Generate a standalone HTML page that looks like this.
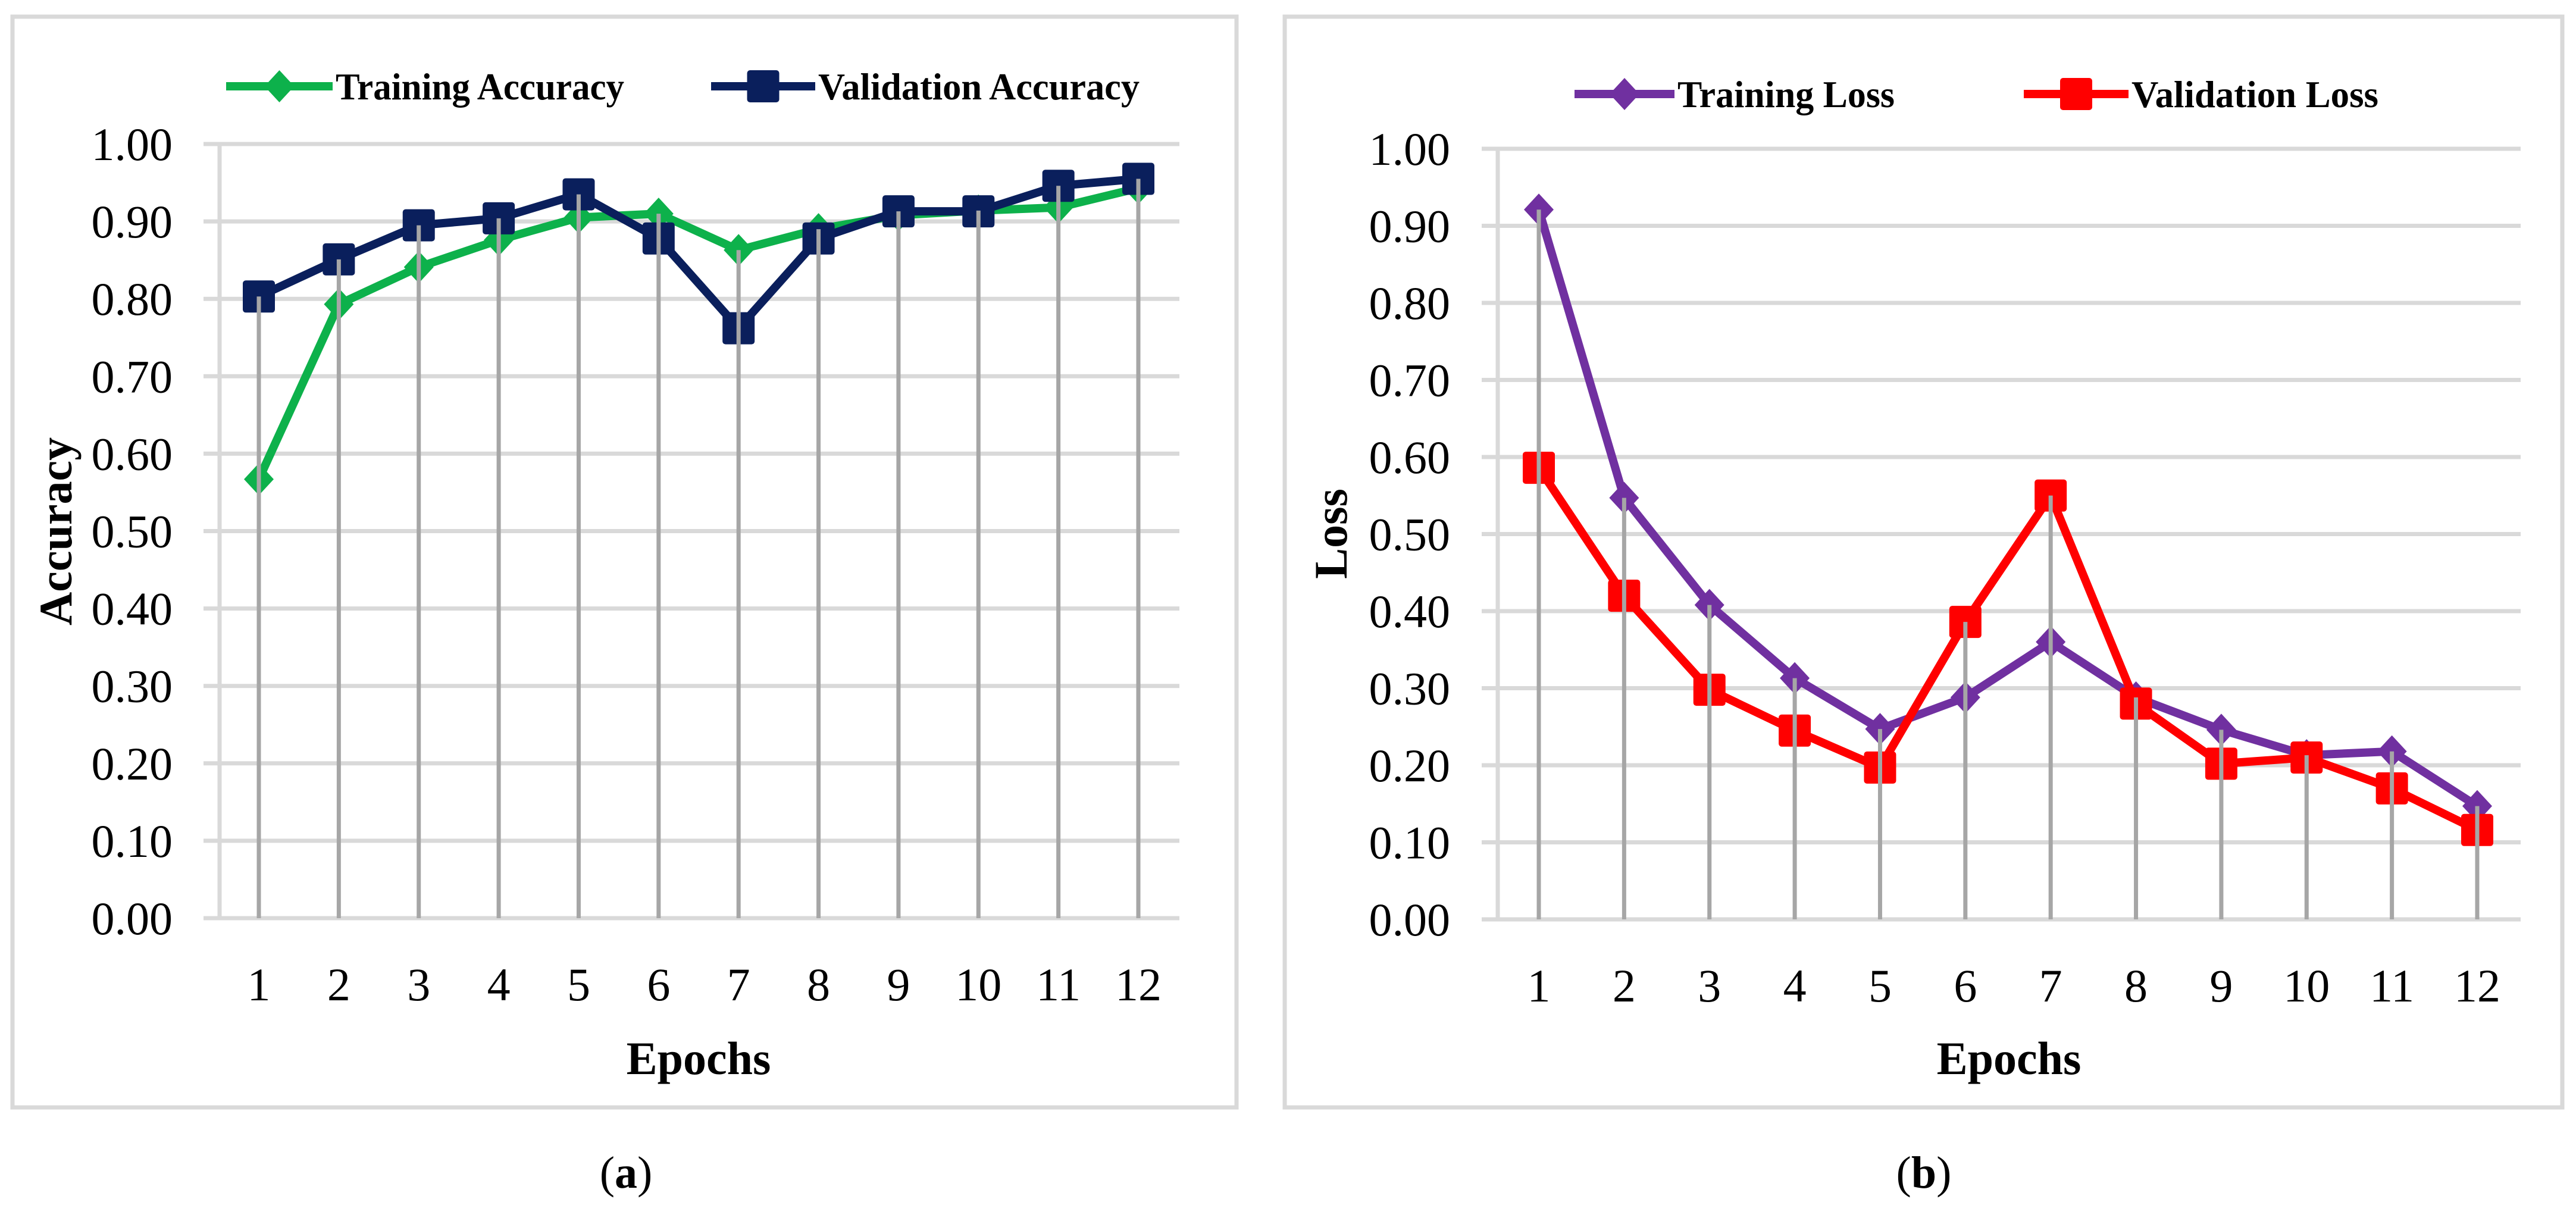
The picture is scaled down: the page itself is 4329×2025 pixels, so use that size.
<!DOCTYPE html>
<html><head><meta charset="utf-8">
<style>
html,body{margin:0;padding:0;background:#fff;}
svg{display:block;}
text{font-family:"Liberation Serif",serif;fill:#000;}
</style></head>
<body>
<svg id="fig" width="4329" height="2025" viewBox="0 0 4329 2025" xmlns="http://www.w3.org/2000/svg"></svg>
<script>
const epochs = [1,2,3,4,5,6,7,8,9,10,11,12];
const yTicks = [0,0.1,0.2,0.3,0.4,0.5,0.6,0.7,0.8,0.9,1.0];
const trainAcc = [0.567,0.793,0.841,0.876,0.905,0.910,0.863,0.890,0.908,0.914,0.918,0.943];
const valAcc = [0.803,0.851,0.895,0.904,0.935,0.878,0.762,0.878,0.913,0.913,0.946,0.955];
const trainLoss = [0.921,0.547,0.408,0.313,0.247,0.288,0.360,0.288,0.246,0.213,0.218,0.147];
const valLoss = [0.586,0.420,0.298,0.245,0.197,0.386,0.550,0.280,0.202,0.210,0.170,0.116];

const NS = "http://www.w3.org/2000/svg";
const svg = document.getElementById('fig');
function mk(tag, attrs, parent){
  const e = document.createElementNS(NS, tag);
  for (const k in attrs) e.setAttribute(k, attrs[k]);
  (parent||svg).appendChild(e);
  return e;
}
function marker(g, type, cx, cy, color){
  let m;
  if (type === 'sq') {
    m = mk('rect', {x:cx-27, y:cy-27, width:54, height:54, rx:5, fill:color}, g);
  } else {
    m = mk('polygon', {points:`${cx},${cy-27} ${cx+25},${cy} ${cx},${cy+27} ${cx-25},${cy}`, fill:color}, g);
  }
  return m;
}

function panel(cfg){
  const g = mk('g', {});
  
  
  const box = mk('rect', {x:cfg.box[0], y:cfg.box[1], width:cfg.box[2]-cfg.box[0], height:cfg.box[3]-cfg.box[1], fill:'none', stroke:'#d9d9d9', 'stroke-width':7}, g);
  
  
  const xs = i => cfg.x1 + (cfg.x12 - cfg.x1) * i / (epochs.length - 1);
  const ys = v => cfg.y0 + (cfg.y1 - cfg.y0) * v;
  yTicks.forEach(t => {
    const l = mk('line', {x1:cfg.gx0, x2:cfg.gx1, y1:ys(t), y2:ys(t), stroke:'#d9d9d9', 'stroke-width':7}, g);
    
    
    const tx = mk('text', {x:cfg.labR, y:ys(t)+27, 'text-anchor':'end', 'font-size':78}, g);
    tx.textContent = t.toFixed(2);
    
    
  });
  const ax = mk('line', {x1:cfg.axX, x2:cfg.axX, y1:cfg.y1, y2:cfg.y0, stroke:'#d9d9d9', 'stroke-width':7}, g);
  
  
  epochs.forEach((e,i) => {
    const tx = mk('text', {x:xs(i), y:cfg.tickY+27, 'text-anchor':'middle', 'font-size':78}, g);
    tx.textContent = e;
    
    
  });
  cfg.series.forEach(s => {
    const pts = s.data.map((v,i) => xs(i)+','+ys(v)).join(' ');
    const pl = mk('polyline', {points:pts, fill:'none', stroke:s.color, 'stroke-width':14, 'stroke-linejoin':'round'}, g);
    
    
    s.data.forEach((v,i) => {
      const m = marker(g, s.type, xs(i), ys(v), s.color);
      
      
    });
  });
  epochs.forEach((e,i) => {
    const top = Math.max(cfg.series[0].data[i], cfg.series[1].data[i]);
    const l = mk('line', {x1:xs(i), x2:xs(i), y1:cfg.y0, y2:ys(top), stroke:'#a6a6a6', 'stroke-width':7}, g);
    
    
  });
  cfg.series.forEach(s => {
    const lg = mk('g', {}, g);
    
    
    mk('line', {x1:s.leg[0], x2:s.leg[1], y1:cfg.legY, y2:cfg.legY, stroke:s.color, 'stroke-width':14}, lg);
    marker(lg, s.type, (s.leg[0]+s.leg[1])/2, cfg.legY, s.color);
    const t = mk('text', {x:s.leg[1]+5, y:cfg.legY+22, 'font-size':64, 'font-weight':'bold', textLength:s.tw, lengthAdjust:'spacingAndGlyphs'}, lg);
    t.textContent = s.label;
  });
  const yt = mk('text', {x:0, y:0, transform:`translate(${cfg.ytX+26},${cfg.ytY}) rotate(-90)`, 'text-anchor':'middle', 'font-size':78, 'font-weight':'bold'}, g);
  yt.textContent = cfg.yTitle;
  
  
  const xt = mk('text', {x:cfg.xtX, y:cfg.xtY+26, 'text-anchor':'middle', 'font-size':78, 'font-weight':'bold'}, g);
  xt.textContent = 'Epochs';
  
  
  const cap = mk('text', {x:cfg.capX, y:1996, 'text-anchor':'middle', 'font-size':76}, g);
  cap.innerHTML = '(<tspan font-weight="bold">' + cfg.cap + '</tspan>)';
  
  
}

panel({name:'accuracy-chart', box:[21,28,2078,1861], x1:435, x12:1913, y0:1543, y1:242,
  gx0:342, gx1:1982, axX:369, labR:290, tickY:1654, legY:145,
  ytX:94, ytY:893, yTitle:'Accuracy', xtX:1174, xtY:1779, capX:1052, cap:'a',
  series:[
    {key:'training-accuracy', label:'Training Accuracy', data:trainAcc, color:'#0db14b', type:'dia', leg:[380,559], tw:485},
    {key:'validation-accuracy', label:'Validation Accuracy', data:valAcc, color:'#0a1f5c', type:'sq', leg:[1195,1370], tw:540}
  ]});
panel({name:'loss-chart', box:[2159,28,4306,1861], x1:2586, x12:4163, y0:1545, y1:250,
  gx0:2490, gx1:4236, axX:2517, labR:2437, tickY:1656, legY:158,
  ytX:2237, ytY:897, yTitle:'Loss', xtX:3376, xtY:1779, capX:3233, cap:'b',
  series:[
    {key:'training-loss', label:'Training Loss', data:trainLoss, color:'#7030a0', type:'dia', leg:[2646,2814], tw:365},
    {key:'validation-loss', label:'Validation Loss', data:valLoss, color:'#ff0000', type:'sq', leg:[3401,3577], tw:415}
  ]});
</script>
</body></html>
